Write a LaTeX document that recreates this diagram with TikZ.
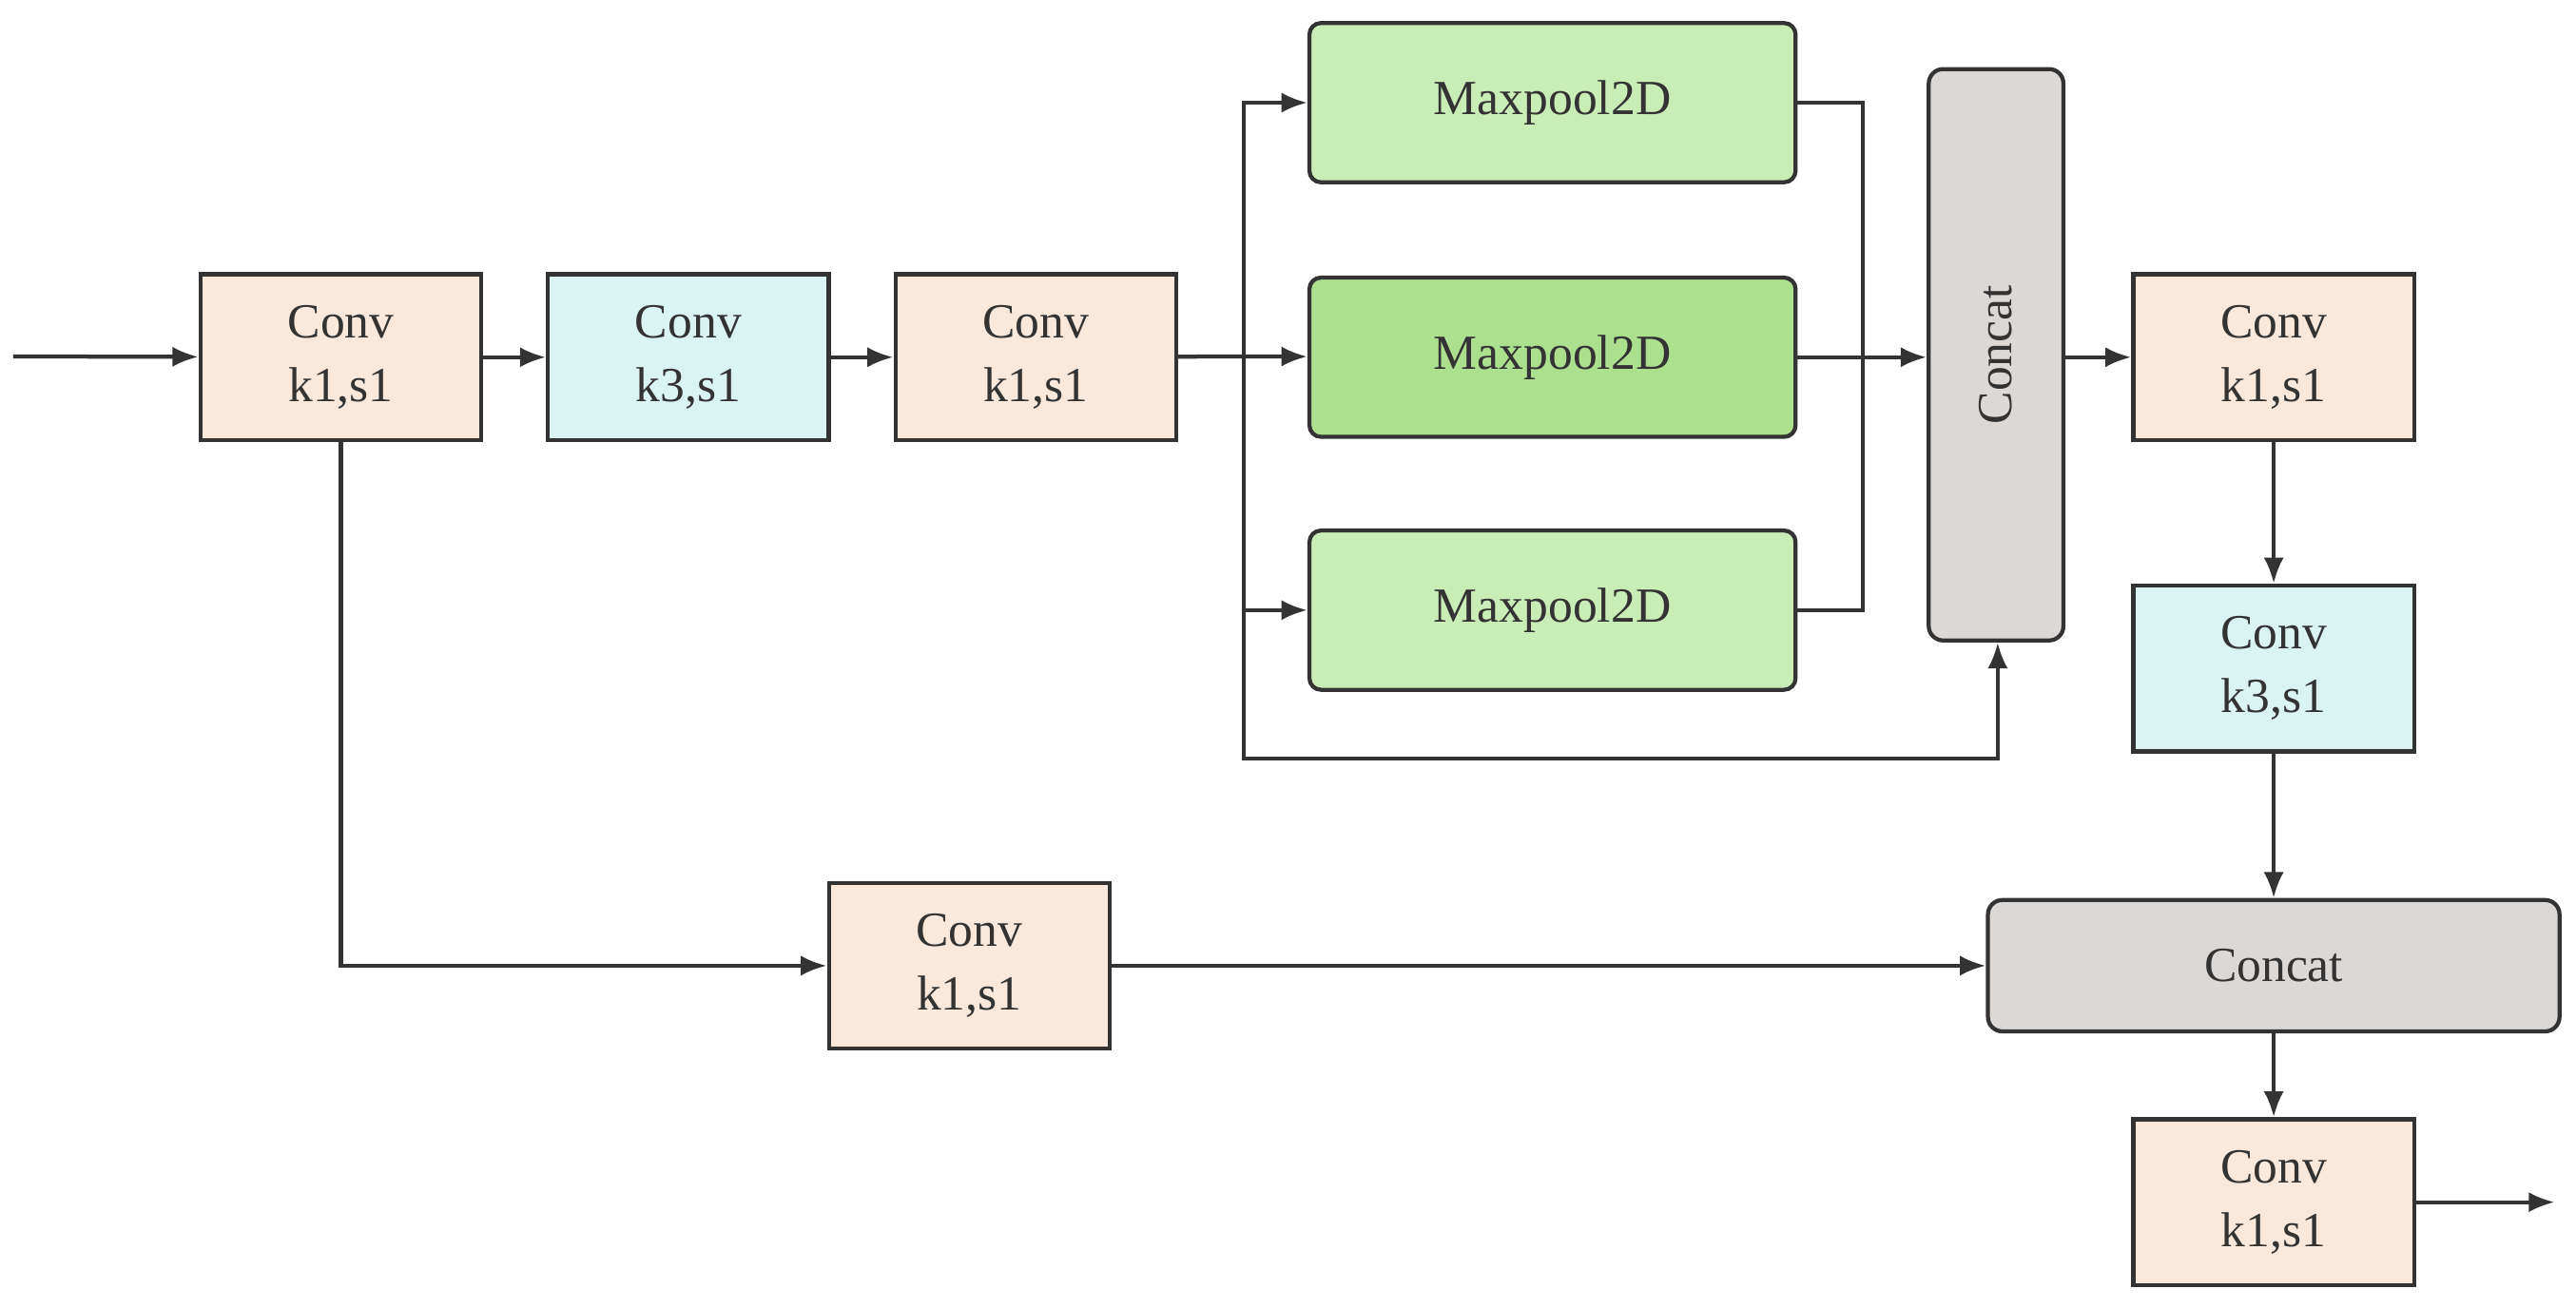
\documentclass[tikz,border=0pt]{standalone}
\usepackage{fontspec}
\setmainfont{Liberation Serif}
\usetikzlibrary{arrows.meta}
\definecolor{peach}{HTML}{FAE8DA}
\definecolor{cyanb}{HTML}{DAF3F3}
\definecolor{lgreen}{HTML}{C9EDB6}
\definecolor{dgreen}{HTML}{ACE08F}
\definecolor{grayb}{HTML}{DCD8D6}
\definecolor{edge}{HTML}{333333}
\tikzset{
  blk/.style={draw=edge, line width=1.4pt, align=center, font=\fontsize{17}{22}\selectfont, text=edge,
    minimum width=3.42cm, minimum height=2.02cm, inner sep=0pt},
  conv/.style={blk, fill=peach},
  convk/.style={blk, fill=cyanb},
  pool/.style={blk, rounded corners=4pt, fill=lgreen, minimum width=5.92cm, minimum height=1.94cm},
  cat/.style={blk, rounded corners=5pt, fill=grayb},
  arr/.style={draw=edge, line width=1.4pt, -{Latex[length=9pt,width=7pt]}},
  ln/.style={draw=edge, line width=1.4pt}
}
\begin{document}
\begin{tikzpicture}[x=0.02cm,y=-0.02cm]
  \useasboundingbox (0,0) rectangle (1568,796);
  \coordinate (in) at (8,217);
  \node[conv]  (c1) at (207.5,217.5) {Conv\\k1,s1};
  \node[convk] (c2) at (419,217.5)   {Conv\\k3,s1};
  \node[conv]  (c3) at (630.5,217.5) {Conv\\k1,s1};
  \node[pool]  (m1) at (945,62.5)  {Maxpool2D};
  \node[pool, fill=dgreen] (m2) at (945,217.5) {Maxpool2D};
  \node[pool]  (m3) at (945,371.5) {Maxpool2D};
  \node[cat, minimum width=1.64cm, minimum height=6.96cm] (k1) at (1215,216) {\rotatebox{90}{Concat}};
  \node[conv]  (c4) at (1384,217.5) {Conv\\k1,s1};
  \node[convk] (c5) at (1384,407)   {Conv\\k3,s1};
  \node[cat, minimum width=6.96cm, minimum height=1.6cm] (k2) at (1384,588) {Concat};
  \node[conv]  (c6) at (1384,732)   {Conv\\k1,s1};
  \node[conv]  (c7) at (590,588)    {Conv\\k1,s1};
  \coordinate (out) at (1555,732);
  \coordinate (sp) at (757,217);
  \coordinate (mg) at (1134,217);

  \draw[arr] (in) -- (c1);
  \draw[arr] (c1) -- (c2);
  \draw[arr] (c2) -- (c3);
  \draw[ln] (c3) -- (sp);
  \draw[arr] (sp) -- (m2);
  \draw[arr] (sp) |- (m1);
  \draw[arr] (sp) |- (m3);
  \draw[arr] (sp) |- (1216,462) -- (k1.south -| 1216,0);
  \draw[ln] (m1.east) -| (mg);
  \draw[ln] (m3.east) -| (mg);
  \draw[arr] (m2) -- (k1.west |- m2);
  \draw[arr] (k1.east |- c4) -- (c4);
  \draw[arr] (c4) -- (c5);
  \draw[arr] (c5) -- (k2);
  \draw[arr] (k2) -- (c6);
  \draw[arr] (c6) -- (out);
  \draw[arr] (c1) |- (c7);
  \draw[arr] (c7) -- (k2);
\end{tikzpicture}
\end{document}
